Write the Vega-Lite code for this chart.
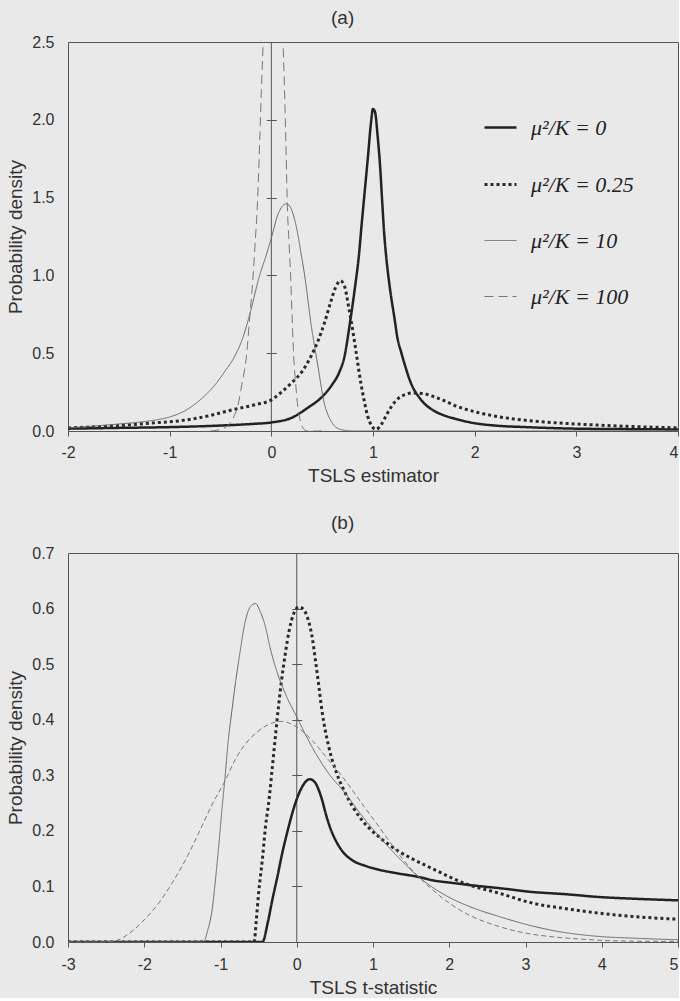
{
  "$schema": "https://vega.github.io/schema/vega-lite/v6.json",
  "background": "#e9e9e9",
  "padding": {"left": 6, "top": 8, "right": 0, "bottom": 0},
  "spacing": 27,
  "config": {
    "view": {"stroke": "#555", "strokeWidth": 1},
    "font": "Liberation Sans",
    "axis": {
      "labelFont": "Liberation Sans", "labelFontSize": 16, "labelColor": "#333",
      "titleFont": "Liberation Sans", "titleFontSize": 19, "titleFontWeight": "normal", "titleColor": "#333",
      "domainColor": "#555", "tickColor": "#555"
    },
    "title": {"font": "Liberation Sans", "fontSize": 19, "fontWeight": "normal", "color": "#333", "anchor": "middle", "frame": "bounds"}
  },
  "resolve": {
    "scale": {"x": "independent", "y": "independent", "color": "independent", "strokeDash": "independent", "strokeWidth": "independent"},
    "legend": {"color": "independent", "strokeDash": "independent", "strokeWidth": "independent"}
  },
  "vconcat": [
    {
      "title": {"text": "(a)", "offset": 6},
      "width": 610,
      "height": 389,
      "layer": [
        {
          "data": {"values": [{}]},
          "mark": {"type": "rule", "color": "#555", "strokeWidth": 1},
          "encoding": {"x": {"datum": 0, "type": "quantitative"}}
        },
        {
          "data": {"values": [
            {"series": "μ²/K = 0", "x": -2, "density": 0.015},
            {"series": "μ²/K = 0", "x": -1.5, "density": 0.02},
            {"series": "μ²/K = 0", "x": -1, "density": 0.025},
            {"series": "μ²/K = 0", "x": -0.5, "density": 0.035},
            {"series": "μ²/K = 0", "x": -0.2, "density": 0.045},
            {"series": "μ²/K = 0", "x": 0, "density": 0.055},
            {"series": "μ²/K = 0", "x": 0.2, "density": 0.085},
            {"series": "μ²/K = 0", "x": 0.36, "density": 0.15},
            {"series": "μ²/K = 0", "x": 0.5, "density": 0.22},
            {"series": "μ²/K = 0", "x": 0.6, "density": 0.3},
            {"series": "μ²/K = 0", "x": 0.67, "density": 0.38},
            {"series": "μ²/K = 0", "x": 0.72, "density": 0.48},
            {"series": "μ²/K = 0", "x": 0.77, "density": 0.68},
            {"series": "μ²/K = 0", "x": 0.82, "density": 0.91},
            {"series": "μ²/K = 0", "x": 0.86, "density": 1.12},
            {"series": "μ²/K = 0", "x": 0.89, "density": 1.34},
            {"series": "μ²/K = 0", "x": 0.92, "density": 1.55},
            {"series": "μ²/K = 0", "x": 0.95, "density": 1.76},
            {"series": "μ²/K = 0", "x": 0.98, "density": 1.98},
            {"series": "μ²/K = 0", "x": 1.0, "density": 2.07},
            {"series": "μ²/K = 0", "x": 1.02, "density": 2.05},
            {"series": "μ²/K = 0", "x": 1.045, "density": 1.9},
            {"series": "μ²/K = 0", "x": 1.07, "density": 1.7},
            {"series": "μ²/K = 0", "x": 1.09, "density": 1.48},
            {"series": "μ²/K = 0", "x": 1.11, "density": 1.27},
            {"series": "μ²/K = 0", "x": 1.13, "density": 1.12},
            {"series": "μ²/K = 0", "x": 1.17, "density": 0.9},
            {"series": "μ²/K = 0", "x": 1.21, "density": 0.73},
            {"series": "μ²/K = 0", "x": 1.24, "density": 0.6},
            {"series": "μ²/K = 0", "x": 1.28, "density": 0.5},
            {"series": "μ²/K = 0", "x": 1.32, "density": 0.41},
            {"series": "μ²/K = 0", "x": 1.36, "density": 0.33},
            {"series": "μ²/K = 0", "x": 1.4, "density": 0.27},
            {"series": "μ²/K = 0", "x": 1.45, "density": 0.22},
            {"series": "μ²/K = 0", "x": 1.5, "density": 0.18},
            {"series": "μ²/K = 0", "x": 1.6, "density": 0.13},
            {"series": "μ²/K = 0", "x": 1.7, "density": 0.1},
            {"series": "μ²/K = 0", "x": 1.8, "density": 0.08},
            {"series": "μ²/K = 0", "x": 2.0, "density": 0.05},
            {"series": "μ²/K = 0", "x": 2.2, "density": 0.035},
            {"series": "μ²/K = 0", "x": 2.5, "density": 0.025},
            {"series": "μ²/K = 0", "x": 3.0, "density": 0.015},
            {"series": "μ²/K = 0", "x": 3.5, "density": 0.012},
            {"series": "μ²/K = 0", "x": 4.0, "density": 0.01},

            {"series": "μ²/K = 0.25", "x": -2, "density": 0.02},
            {"series": "μ²/K = 0.25", "x": -1.5, "density": 0.035},
            {"series": "μ²/K = 0.25", "x": -1.2, "density": 0.05},
            {"series": "μ²/K = 0.25", "x": -0.85, "density": 0.07},
            {"series": "μ²/K = 0.25", "x": -0.6, "density": 0.1},
            {"series": "μ²/K = 0.25", "x": -0.36, "density": 0.14},
            {"series": "μ²/K = 0.25", "x": -0.15, "density": 0.17},
            {"series": "μ²/K = 0.25", "x": 0, "density": 0.2},
            {"series": "μ²/K = 0.25", "x": 0.1, "density": 0.25},
            {"series": "μ²/K = 0.25", "x": 0.2, "density": 0.31},
            {"series": "μ²/K = 0.25", "x": 0.3, "density": 0.38},
            {"series": "μ²/K = 0.25", "x": 0.39, "density": 0.48},
            {"series": "μ²/K = 0.25", "x": 0.46, "density": 0.58},
            {"series": "μ²/K = 0.25", "x": 0.52, "density": 0.69},
            {"series": "μ²/K = 0.25", "x": 0.58, "density": 0.82},
            {"series": "μ²/K = 0.25", "x": 0.63, "density": 0.92},
            {"series": "μ²/K = 0.25", "x": 0.68, "density": 0.965},
            {"series": "μ²/K = 0.25", "x": 0.72, "density": 0.93},
            {"series": "μ²/K = 0.25", "x": 0.76, "density": 0.8},
            {"series": "μ²/K = 0.25", "x": 0.8, "density": 0.65},
            {"series": "μ²/K = 0.25", "x": 0.84, "density": 0.48},
            {"series": "μ²/K = 0.25", "x": 0.88, "density": 0.31},
            {"series": "μ²/K = 0.25", "x": 0.915, "density": 0.19},
            {"series": "μ²/K = 0.25", "x": 0.95, "density": 0.09},
            {"series": "μ²/K = 0.25", "x": 0.99, "density": 0.03},
            {"series": "μ²/K = 0.25", "x": 1.03, "density": 0.01},
            {"series": "μ²/K = 0.25", "x": 1.08, "density": 0.04},
            {"series": "μ²/K = 0.25", "x": 1.13, "density": 0.1},
            {"series": "μ²/K = 0.25", "x": 1.18, "density": 0.156},
            {"series": "μ²/K = 0.25", "x": 1.25, "density": 0.21},
            {"series": "μ²/K = 0.25", "x": 1.32, "density": 0.235},
            {"series": "μ²/K = 0.25", "x": 1.4, "density": 0.245},
            {"series": "μ²/K = 0.25", "x": 1.5, "density": 0.24},
            {"series": "μ²/K = 0.25", "x": 1.6, "density": 0.22},
            {"series": "μ²/K = 0.25", "x": 1.7, "density": 0.195},
            {"series": "μ²/K = 0.25", "x": 1.8, "density": 0.165},
            {"series": "μ²/K = 0.25", "x": 2.0, "density": 0.124},
            {"series": "μ²/K = 0.25", "x": 2.3, "density": 0.085},
            {"series": "μ²/K = 0.25", "x": 2.65, "density": 0.06},
            {"series": "μ²/K = 0.25", "x": 3.0, "density": 0.045},
            {"series": "μ²/K = 0.25", "x": 3.5, "density": 0.03},
            {"series": "μ²/K = 0.25", "x": 4.0, "density": 0.02},

            {"series": "μ²/K = 10", "x": -2, "density": 0.02},
            {"series": "μ²/K = 10", "x": -1.5, "density": 0.045},
            {"series": "μ²/K = 10", "x": -1.2, "density": 0.065},
            {"series": "μ²/K = 10", "x": -1, "density": 0.09},
            {"series": "μ²/K = 10", "x": -0.85, "density": 0.13},
            {"series": "μ²/K = 10", "x": -0.7, "density": 0.2},
            {"series": "μ²/K = 10", "x": -0.55, "density": 0.3},
            {"series": "μ²/K = 10", "x": -0.45, "density": 0.39},
            {"series": "μ²/K = 10", "x": -0.36, "density": 0.48},
            {"series": "μ²/K = 10", "x": -0.28, "density": 0.6},
            {"series": "μ²/K = 10", "x": -0.2, "density": 0.78},
            {"series": "μ²/K = 10", "x": -0.12, "density": 0.99},
            {"series": "μ²/K = 10", "x": -0.05, "density": 1.13},
            {"series": "μ²/K = 10", "x": 0.0, "density": 1.24},
            {"series": "μ²/K = 10", "x": 0.07, "density": 1.4},
            {"series": "μ²/K = 10", "x": 0.15, "density": 1.46},
            {"series": "μ²/K = 10", "x": 0.2, "density": 1.42},
            {"series": "μ²/K = 10", "x": 0.25, "density": 1.3},
            {"series": "μ²/K = 10", "x": 0.29, "density": 1.15},
            {"series": "μ²/K = 10", "x": 0.33, "density": 0.99},
            {"series": "μ²/K = 10", "x": 0.39, "density": 0.69},
            {"series": "μ²/K = 10", "x": 0.46, "density": 0.41},
            {"series": "μ²/K = 10", "x": 0.52, "density": 0.18},
            {"series": "μ²/K = 10", "x": 0.56, "density": 0.1},
            {"series": "μ²/K = 10", "x": 0.6, "density": 0.05},
            {"series": "μ²/K = 10", "x": 0.68, "density": 0.01},
            {"series": "μ²/K = 10", "x": 0.8, "density": 0},
            {"series": "μ²/K = 10", "x": 4.0, "density": 0},

            {"series": "μ²/K = 100", "x": -0.6, "density": 0},
            {"series": "μ²/K = 100", "x": -0.5, "density": 0.01},
            {"series": "μ²/K = 100", "x": -0.42, "density": 0.04},
            {"series": "μ²/K = 100", "x": -0.37, "density": 0.09},
            {"series": "μ²/K = 100", "x": -0.33, "density": 0.16},
            {"series": "μ²/K = 100", "x": -0.29, "density": 0.3},
            {"series": "μ²/K = 100", "x": -0.245, "density": 0.48},
            {"series": "μ²/K = 100", "x": -0.21, "density": 0.75},
            {"series": "μ²/K = 100", "x": -0.18, "density": 0.99},
            {"series": "μ²/K = 100", "x": -0.16, "density": 1.2},
            {"series": "μ²/K = 100", "x": -0.137, "density": 1.46},
            {"series": "μ²/K = 100", "x": -0.115, "density": 1.85},
            {"series": "μ²/K = 100", "x": -0.098, "density": 2.19},
            {"series": "μ²/K = 100", "x": -0.08, "density": 2.5},
            {"series": "μ²/K = 100", "x": -0.05, "density": 3.0},
            {"series": "μ²/K = 100", "x": -0.02, "density": 3.4},
            {"series": "μ²/K = 100", "x": 0.02, "density": 3.6},
            {"series": "μ²/K = 100", "x": 0.06, "density": 3.4},
            {"series": "μ²/K = 100", "x": 0.09, "density": 3.0},
            {"series": "μ²/K = 100", "x": 0.115, "density": 2.5},
            {"series": "μ²/K = 100", "x": 0.13, "density": 2.19},
            {"series": "μ²/K = 100", "x": 0.145, "density": 1.8},
            {"series": "μ²/K = 100", "x": 0.157, "density": 1.46},
            {"series": "μ²/K = 100", "x": 0.175, "density": 1.2},
            {"series": "μ²/K = 100", "x": 0.19, "density": 0.99},
            {"series": "μ²/K = 100", "x": 0.205, "density": 0.72},
            {"series": "μ²/K = 100", "x": 0.22, "density": 0.48},
            {"series": "μ²/K = 100", "x": 0.24, "density": 0.3},
            {"series": "μ²/K = 100", "x": 0.26, "density": 0.156},
            {"series": "μ²/K = 100", "x": 0.28, "density": 0.08},
            {"series": "μ²/K = 100", "x": 0.31, "density": 0.02},
            {"series": "μ²/K = 100", "x": 0.35, "density": 0},
            {"series": "μ²/K = 100", "x": 0.5, "density": 0}
          ]},
          "mark": {"type": "line", "interpolate": "monotone", "clip": true},
          "encoding": {
            "x": {"field": "x", "type": "quantitative",
                  "scale": {"domain": [-2, 4], "nice": false, "zero": false},
                  "axis": {"title": "TSLS estimator", "values": [-2, -1, 0, 1, 2, 3, 4], "labelExpr": "datum.value + ''", "tickSize": 5, "labelPadding": 8, "titlePadding": 6, "grid": false, "labelFlush": false,
                           "labelAlign": {"condition": {"test": "datum.value == 4", "value": "right"}, "value": "center"}}},
            "y": {"field": "density", "type": "quantitative",
                  "scale": {"domain": [0, 2.5], "nice": false},
                  "axis": {"title": "Probability density", "values": [0, 0.5, 1, 1.5, 2, 2.5], "format": ".1f", "ticks": false, "domain": false, "labelPadding": 14, "titlePadding": 6,
                           "grid": true, "gridColor": "#555", "gridOpacity": 1, "gridWidth": 1, "gridDash": [0, 198.3, 10, 3000]}},
            "color": {"field": "series", "type": "nominal",
                      "scale": {"domain": ["μ²/K = 0", "μ²/K = 0.25", "μ²/K = 10", "μ²/K = 100"], "range": ["#222222", "#2a2a2a", "#666666", "#777777"]},
                      "legend": {"orient": "none", "legendX": 415, "legendY": 68, "title": null, "symbolType": "stroke", "symbolSize": 1024,
                                 "labelFont": "Liberation Serif", "labelFontSize": 22, "labelFontStyle": "italic", "labelColor": "#222",
                                 "labelOffset": 13, "rowPadding": 28, "padding": 0, "labelLimit": 300}},
            "strokeDash": {"field": "series", "type": "nominal",
                           "scale": {"domain": ["μ²/K = 0", "μ²/K = 0.25", "μ²/K = 10", "μ²/K = 100"], "range": [[1, 0], [3, 3], [1, 0], [9, 5]]},
                           "legend": {"orient": "none", "legendX": 415, "legendY": 68, "title": null, "symbolType": "stroke", "symbolSize": 1024,
                                 "labelFont": "Liberation Serif", "labelFontSize": 22, "labelFontStyle": "italic", "labelColor": "#222",
                                 "labelOffset": 13, "rowPadding": 28, "padding": 0, "labelLimit": 300}},
            "strokeWidth": {"field": "series", "type": "nominal",
                            "scale": {"type": "ordinal", "domain": ["μ²/K = 0", "μ²/K = 0.25", "μ²/K = 10", "μ²/K = 100"], "range": [2.5, 3, 1, 1]},
                            "legend": {"orient": "none", "legendX": 415, "legendY": 68, "title": null, "symbolType": "stroke", "symbolSize": 1024,
                                 "labelFont": "Liberation Serif", "labelFontSize": 22, "labelFontStyle": "italic", "labelColor": "#222",
                                 "labelOffset": 13, "rowPadding": 28, "padding": 0, "labelLimit": 300}}
          }
        }
      ]
    },
    {
      "title": {"text": "(b)", "offset": 12},
      "width": 610,
      "height": 389,
      "layer": [
        {
          "data": {"values": [{}]},
          "mark": {"type": "rule", "color": "#555", "strokeWidth": 1},
          "encoding": {"x": {"datum": 0, "type": "quantitative"}}
        },
        {
          "data": {"values": [
            {"series": "μ²/K = 0", "x": -3, "density": 0},
            {"series": "μ²/K = 0", "x": -0.45, "density": 0},
            {"series": "μ²/K = 0", "x": -0.38, "density": 0.035},
            {"series": "μ²/K = 0", "x": -0.32, "density": 0.076},
            {"series": "μ²/K = 0", "x": -0.25, "density": 0.12},
            {"series": "μ²/K = 0", "x": -0.19, "density": 0.16},
            {"series": "μ²/K = 0", "x": -0.12, "density": 0.2},
            {"series": "μ²/K = 0", "x": -0.06, "density": 0.231},
            {"series": "μ²/K = 0", "x": 0, "density": 0.257},
            {"series": "μ²/K = 0", "x": 0.07, "density": 0.279},
            {"series": "μ²/K = 0", "x": 0.17, "density": 0.293},
            {"series": "μ²/K = 0", "x": 0.24, "density": 0.287},
            {"series": "μ²/K = 0", "x": 0.29, "density": 0.273},
            {"series": "μ²/K = 0", "x": 0.34, "density": 0.252},
            {"series": "μ²/K = 0", "x": 0.38, "density": 0.231},
            {"series": "μ²/K = 0", "x": 0.44, "density": 0.205},
            {"series": "μ²/K = 0", "x": 0.51, "density": 0.183},
            {"series": "μ²/K = 0", "x": 0.6, "density": 0.163},
            {"series": "μ²/K = 0", "x": 0.73, "density": 0.147},
            {"series": "μ²/K = 0", "x": 0.9, "density": 0.137},
            {"series": "μ²/K = 0", "x": 1.08, "density": 0.13},
            {"series": "μ²/K = 0", "x": 1.3, "density": 0.124},
            {"series": "μ²/K = 0", "x": 1.6, "density": 0.117},
            {"series": "μ²/K = 0", "x": 1.78, "density": 0.111},
            {"series": "μ²/K = 0", "x": 2.0, "density": 0.107},
            {"series": "μ²/K = 0", "x": 2.3, "density": 0.102},
            {"series": "μ²/K = 0", "x": 2.65, "density": 0.097},
            {"series": "μ²/K = 0", "x": 3.09, "density": 0.09},
            {"series": "μ²/K = 0", "x": 3.53, "density": 0.086},
            {"series": "μ²/K = 0", "x": 3.96, "density": 0.081},
            {"series": "μ²/K = 0", "x": 4.4, "density": 0.078},
            {"series": "μ²/K = 0", "x": 5.0, "density": 0.075},

            {"series": "μ²/K = 0.25", "x": -3, "density": 0},
            {"series": "μ²/K = 0.25", "x": -0.56, "density": 0},
            {"series": "μ²/K = 0.25", "x": -0.53, "density": 0.04},
            {"series": "μ²/K = 0.25", "x": -0.5, "density": 0.088},
            {"series": "μ²/K = 0.25", "x": -0.45, "density": 0.15},
            {"series": "μ²/K = 0.25", "x": -0.41, "density": 0.207},
            {"series": "μ²/K = 0.25", "x": -0.36, "density": 0.26},
            {"series": "μ²/K = 0.25", "x": -0.32, "density": 0.315},
            {"series": "μ²/K = 0.25", "x": -0.28, "density": 0.37},
            {"series": "μ²/K = 0.25", "x": -0.24, "density": 0.423},
            {"series": "μ²/K = 0.25", "x": -0.2, "density": 0.47},
            {"series": "μ²/K = 0.25", "x": -0.15, "density": 0.519},
            {"series": "μ²/K = 0.25", "x": -0.1, "density": 0.56},
            {"series": "μ²/K = 0.25", "x": -0.04, "density": 0.591},
            {"series": "μ²/K = 0.25", "x": 0.03, "density": 0.603},
            {"series": "μ²/K = 0.25", "x": 0.08, "density": 0.6},
            {"series": "μ²/K = 0.25", "x": 0.13, "density": 0.588},
            {"series": "μ²/K = 0.25", "x": 0.2, "density": 0.55},
            {"series": "μ²/K = 0.25", "x": 0.245, "density": 0.507},
            {"series": "μ²/K = 0.25", "x": 0.29, "density": 0.46},
            {"series": "μ²/K = 0.25", "x": 0.33, "density": 0.417},
            {"series": "μ²/K = 0.25", "x": 0.42, "density": 0.351},
            {"series": "μ²/K = 0.25", "x": 0.52, "density": 0.305},
            {"series": "μ²/K = 0.25", "x": 0.64, "density": 0.267},
            {"series": "μ²/K = 0.25", "x": 0.857, "density": 0.219},
            {"series": "μ²/K = 0.25", "x": 1.08, "density": 0.189},
            {"series": "μ²/K = 0.25", "x": 1.34, "density": 0.163},
            {"series": "μ²/K = 0.25", "x": 1.51, "density": 0.15},
            {"series": "μ²/K = 0.25", "x": 1.78, "density": 0.132},
            {"series": "μ²/K = 0.25", "x": 2.21, "density": 0.105},
            {"series": "μ²/K = 0.25", "x": 2.65, "density": 0.088},
            {"series": "μ²/K = 0.25", "x": 3.09, "density": 0.07},
            {"series": "μ²/K = 0.25", "x": 3.53, "density": 0.06},
            {"series": "μ²/K = 0.25", "x": 3.96, "density": 0.052},
            {"series": "μ²/K = 0.25", "x": 4.4, "density": 0.046},
            {"series": "μ²/K = 0.25", "x": 5.0, "density": 0.041},

            {"series": "μ²/K = 10", "x": -3, "density": 0},
            {"series": "μ²/K = 10", "x": -1.22, "density": 0},
            {"series": "μ²/K = 10", "x": -1.17, "density": 0.02},
            {"series": "μ²/K = 10", "x": -1.11, "density": 0.058},
            {"series": "μ²/K = 10", "x": -1.06, "density": 0.12},
            {"series": "μ²/K = 10", "x": -1.02, "density": 0.178},
            {"series": "μ²/K = 10", "x": -0.98, "density": 0.24},
            {"series": "μ²/K = 10", "x": -0.94, "density": 0.297},
            {"series": "μ²/K = 10", "x": -0.9, "density": 0.36},
            {"series": "μ²/K = 10", "x": -0.85, "density": 0.417},
            {"series": "μ²/K = 10", "x": -0.8, "density": 0.47},
            {"series": "μ²/K = 10", "x": -0.76, "density": 0.507},
            {"series": "μ²/K = 10", "x": -0.67, "density": 0.58},
            {"series": "μ²/K = 10", "x": -0.6, "density": 0.605},
            {"series": "μ²/K = 10", "x": -0.54, "density": 0.609},
            {"series": "μ²/K = 10", "x": -0.48, "density": 0.595},
            {"series": "μ²/K = 10", "x": -0.41, "density": 0.567},
            {"series": "μ²/K = 10", "x": -0.35, "density": 0.53},
            {"series": "μ²/K = 10", "x": -0.28, "density": 0.495},
            {"series": "μ²/K = 10", "x": -0.15, "density": 0.447},
            {"series": "μ²/K = 10", "x": 0, "density": 0.405},
            {"series": "μ²/K = 10", "x": 0.2, "density": 0.351},
            {"series": "μ²/K = 10", "x": 0.42, "density": 0.303},
            {"series": "μ²/K = 10", "x": 0.64, "density": 0.267},
            {"series": "μ²/K = 10", "x": 0.85, "density": 0.228},
            {"series": "μ²/K = 10", "x": 1.08, "density": 0.19},
            {"series": "μ²/K = 10", "x": 1.3, "density": 0.157},
            {"series": "μ²/K = 10", "x": 1.6, "density": 0.117},
            {"series": "μ²/K = 10", "x": 1.99, "density": 0.081},
            {"series": "μ²/K = 10", "x": 2.3, "density": 0.062},
            {"series": "μ²/K = 10", "x": 2.65, "density": 0.046},
            {"series": "μ²/K = 10", "x": 3.0, "density": 0.032},
            {"series": "μ²/K = 10", "x": 3.31, "density": 0.022},
            {"series": "μ²/K = 10", "x": 3.96, "density": 0.01},
            {"series": "μ²/K = 10", "x": 4.4, "density": 0.007},
            {"series": "μ²/K = 10", "x": 5.0, "density": 0.004},

            {"series": "μ²/K = 100", "x": -3, "density": 0},
            {"series": "μ²/K = 100", "x": -2.5, "density": 0},
            {"series": "μ²/K = 100", "x": -2.38, "density": 0.002},
            {"series": "μ²/K = 100", "x": -2.2, "density": 0.015},
            {"series": "μ²/K = 100", "x": -2.0, "density": 0.04},
            {"series": "μ²/K = 100", "x": -1.8, "density": 0.072},
            {"series": "μ²/K = 100", "x": -1.64, "density": 0.105},
            {"series": "μ²/K = 100", "x": -1.45, "density": 0.15},
            {"series": "μ²/K = 100", "x": -1.29, "density": 0.195},
            {"series": "μ²/K = 100", "x": -1.1, "density": 0.25},
            {"series": "μ²/K = 100", "x": -0.94, "density": 0.29},
            {"series": "μ²/K = 100", "x": -0.8, "density": 0.33},
            {"series": "μ²/K = 100", "x": -0.67, "density": 0.357},
            {"series": "μ²/K = 100", "x": -0.5, "density": 0.38},
            {"series": "μ²/K = 100", "x": -0.3, "density": 0.395},
            {"series": "μ²/K = 100", "x": -0.2, "density": 0.397},
            {"series": "μ²/K = 100", "x": 0, "density": 0.387},
            {"series": "μ²/K = 100", "x": 0.2, "density": 0.363},
            {"series": "μ²/K = 100", "x": 0.42, "density": 0.327},
            {"series": "μ²/K = 100", "x": 0.64, "density": 0.29},
            {"series": "μ²/K = 100", "x": 0.85, "density": 0.25},
            {"series": "μ²/K = 100", "x": 1.08, "density": 0.207},
            {"series": "μ²/K = 100", "x": 1.3, "density": 0.165},
            {"series": "μ²/K = 100", "x": 1.51, "density": 0.13},
            {"series": "μ²/K = 100", "x": 1.78, "density": 0.094},
            {"series": "μ²/K = 100", "x": 2.0, "density": 0.07},
            {"series": "μ²/K = 100", "x": 2.21, "density": 0.052},
            {"series": "μ²/K = 100", "x": 2.65, "density": 0.028},
            {"series": "μ²/K = 100", "x": 3.0, "density": 0.016},
            {"series": "μ²/K = 100", "x": 3.31, "density": 0.01},
            {"series": "μ²/K = 100", "x": 3.75, "density": 0.005},
            {"series": "μ²/K = 100", "x": 4.2, "density": 0.002},
            {"series": "μ²/K = 100", "x": 5.0, "density": 0.001}
          ]},
          "mark": {"type": "line", "interpolate": "monotone", "clip": true},
          "encoding": {
            "x": {"field": "x", "type": "quantitative",
                  "scale": {"domain": [-3, 5], "nice": false, "zero": false},
                  "axis": {"title": "TSLS t-statistic", "values": [-3, -2, -1, 0, 1, 2, 3, 4, 5], "labelExpr": "datum.value + ''", "tickSize": 5, "labelPadding": 9, "titlePadding": 6, "grid": false, "labelFlush": false,
                           "labelAlign": {"condition": {"test": "datum.value == 5", "value": "right"}, "value": "center"}}},
            "y": {"field": "density", "type": "quantitative",
                  "scale": {"domain": [0, 0.7], "nice": false},
                  "axis": {"title": "Probability density", "values": [0, 0.1, 0.2, 0.3, 0.4, 0.5, 0.6, 0.7], "format": ".1f", "ticks": false, "domain": false, "labelPadding": 14, "titlePadding": 6,
                           "grid": true, "gridColor": "#555", "gridOpacity": 1, "gridWidth": 1, "gridDash": [0, 223.75, 10, 3000]}},
            "color": {"field": "series", "type": "nominal",
                      "scale": {"domain": ["μ²/K = 0", "μ²/K = 0.25", "μ²/K = 10", "μ²/K = 100"], "range": ["#222222", "#2a2a2a", "#666666", "#777777"]},
                      "legend": null},
            "strokeDash": {"field": "series", "type": "nominal",
                           "scale": {"domain": ["μ²/K = 0", "μ²/K = 0.25", "μ²/K = 10", "μ²/K = 100"], "range": [[1, 0], [3, 3], [1, 0], [5, 3]]},
                           "legend": null},
            "strokeWidth": {"field": "series", "type": "nominal",
                            "scale": {"type": "ordinal", "domain": ["μ²/K = 0", "μ²/K = 0.25", "μ²/K = 10", "μ²/K = 100"], "range": [2.5, 3, 1, 1]},
                            "legend": null}
          }
        }
      ]
    }
  ]
}
